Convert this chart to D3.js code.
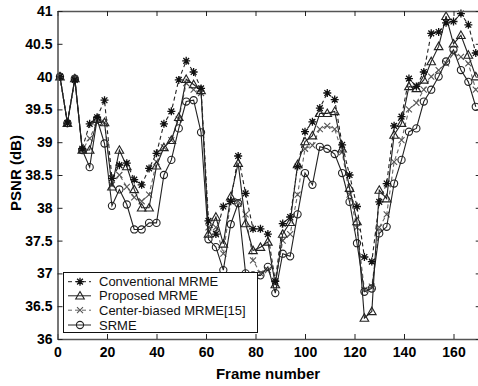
<!DOCTYPE html>
<html><head><meta charset="utf-8">
<script src="https://cdn.jsdelivr.net/npm/d3@7"></script>
<style>
body{margin:0;background:#fff;}
svg{display:block;font-family:"Liberation Sans",Arial,sans-serif;}
</style></head>
<body><svg id="c" width="478" height="386"></svg>
<script>
const frames = [1,4,7,10,13,16,19,22,25,28,31,34,37,40,43,46,49,52,55,58,61,64,67,70,73,76,79,82,85,88,91,94,97,100,103,106,109,112,115,118,121,124,127,130,133,136,139,142,145,148,151,154,157,160,163,166,169];
const conventional = [40.0,39.29,39.95,38.9,39.28,39.38,39.64,38.45,38.65,38.68,38.43,38.35,38.6,38.83,39.28,39.47,39.95,40.24,40.07,39.82,37.8,37.6,38.02,38.1,38.79,38.22,37.68,37.68,37.6,36.88,37.76,37.86,38.63,39.16,39.31,39.52,39.75,39.65,38.96,38.5,38.02,37.25,37.18,38.09,38.37,39.25,39.39,39.97,39.85,40.07,40.66,40.68,40.82,40.84,40.96,40.79,40.36];
const proposed = [40.0,39.29,39.97,38.88,38.88,39.35,39.3,38.32,38.88,38.63,38.28,38.0,38.0,38.64,38.92,39.03,39.38,39.96,39.88,39.79,37.6,37.86,37.45,38.17,38.68,37.76,37.35,37.4,37.48,36.83,37.6,37.78,38.66,39.01,39.1,39.44,39.44,39.47,38.9,38.3,37.79,36.32,36.42,38.27,38.14,39.11,39.29,39.85,39.82,39.95,40.23,40.46,40.92,40.5,40.63,40.33,40.0];
const centerBiased = [40.0,39.29,39.97,38.88,39.06,39.3,39.3,38.35,38.5,38.32,38.16,38.1,38.2,38.7,38.92,39.03,39.35,39.9,39.8,39.75,37.7,37.7,37.3,38.1,38.1,37.9,37.2,37.0,37.05,36.85,37.5,37.6,38.2,38.9,38.95,39.2,39.25,39.2,38.85,38.2,37.7,36.75,36.8,37.7,37.9,38.7,39.03,39.5,39.6,39.8,40.0,40.1,40.2,40.35,40.3,40.2,39.8];
const srme = [40.0,39.29,39.97,38.88,38.62,39.35,38.98,38.03,38.28,38.05,37.67,37.67,37.77,37.77,38.5,38.73,39.21,39.62,39.64,39.15,37.52,37.4,37.05,37.75,38.07,37.0,36.97,36.97,37.1,36.7,37.3,37.26,37.9,38.53,38.35,38.93,38.9,38.82,38.53,38.09,37.46,36.72,36.77,37.61,37.71,38.37,38.73,39.16,39.21,39.62,39.8,40.0,40.23,40.41,40.1,39.92,39.54];
const xTicks = [0,20,40,60,80,100,120,140,160];
const yTicks = [36,36.5,37,37.5,38,38.5,39,39.5,40,40.5,41];
const seriesNames = ["Conventional MRME","Proposed MRME","Center-biased MRME[15]","SRME"];

const svg = d3.select("#c");
const x = d3.scaleLinear().domain([0,171]).range([57.5, 57.5+171*2.475]);
const y = d3.scaleLinear().domain([36,41]).range([339,11]);

const styles = [
  {data:conventional, stroke:"#222", dash:"4,3", marker:"star", mcol:"#111"},
  {data:proposed, stroke:"#222", dash:null, marker:"tri", mcol:"#222"},
  {data:centerBiased, stroke:"#666", dash:"4,3", marker:"x", mcol:"#555"},
  {data:srme, stroke:"#222", dash:null, marker:"circ", mcol:"#222"}
];

function drawMarker(g, type, cx, cy, col){
  if(type==="star"){
    const r=4;
    g.append("path").attr("d",`M${cx-r},${cy}L${cx+r},${cy}M${cx},${cy-r}L${cx},${cy+r}M${cx-r*0.72},${cy-r*0.72}L${cx+r*0.72},${cy+r*0.72}M${cx-r*0.72},${cy+r*0.72}L${cx+r*0.72},${cy-r*0.72}`)
      .attr("stroke",col).attr("stroke-width",1.3).attr("fill","none");
  } else if(type==="tri"){
    const r=4.3;
    g.append("path").attr("d",`M${cx},${cy-r}L${cx+r},${cy+r*0.75}L${cx-r},${cy+r*0.75}Z`)
      .attr("stroke",col).attr("stroke-width",1.1).attr("fill","none");
  } else if(type==="x"){
    const r=3;
    g.append("path").attr("d",`M${cx-r},${cy-r}L${cx+r},${cy+r}M${cx-r},${cy+r}L${cx+r},${cy-r}`)
      .attr("stroke",col).attr("stroke-width",1.1).attr("fill","none");
  } else {
    g.append("circle").attr("cx",cx).attr("cy",cy).attr("r",3.6)
      .attr("stroke",col).attr("stroke-width",1.1).attr("fill","none");
  }
}

const line = d3.line().x((d,i)=>x(frames[i])).y(d=>y(d));
const plot = svg.append("g");
[2,3,1,0].forEach(k=>{
  const s = styles[k];
  plot.append("path").datum(s.data).attr("d",line)
    .attr("fill","none").attr("stroke",s.stroke).attr("stroke-width",1.1)
    .attr("stroke-dasharray",s.dash);
  const mg = plot.append("g");
  s.data.forEach((v,i)=>drawMarker(mg,s.marker,x(frames[i]),y(v),s.mcol));
});

const axCol="#555";
const x0=x(0), x1=x(171), yb=y(36), yt=y(41);
const fmt = d => (d%1 ? d.toFixed(1) : String(d));
const bAxis = svg.append("g").attr("transform",`translate(0,${yb})`)
  .call(d3.axisBottom(x).tickValues(xTicks).tickSize(-5).tickSizeOuter(0).tickPadding(8).tickFormat(fmt));
const tAxis = svg.append("g").attr("transform",`translate(0,${yt})`)
  .call(d3.axisTop(x).tickValues(xTicks).tickSize(-5).tickSizeOuter(0).tickFormat(""));
const lAxis = svg.append("g").attr("transform",`translate(${x0},0)`)
  .call(d3.axisLeft(y).tickValues(yTicks).tickSize(-5).tickSizeOuter(0).tickPadding(5).tickFormat(fmt));
const rAxis = svg.append("g").attr("transform",`translate(${x1},0)`)
  .call(d3.axisRight(y).tickValues(yTicks).tickSize(-5).tickSizeOuter(0).tickFormat(""));
[bAxis,tAxis,lAxis,rAxis].forEach(a=>{
  a.select(".domain").attr("stroke",axCol).attr("stroke-width",1.6);
  a.selectAll(".tick line").attr("stroke","#222").attr("stroke-width",1);
  a.selectAll("text").attr("font-size",14).attr("font-weight","bold").attr("fill","#000")
    .attr("font-family","'Liberation Sans',Arial,sans-serif");
});

svg.append("text").attr("x",268).attr("y",379).attr("text-anchor","middle")
  .attr("font-size",15).attr("font-weight","bold").text("Frame number");
svg.append("text").attr("transform","translate(21,173) rotate(-90)").attr("text-anchor","middle")
  .attr("font-size",15).attr("font-weight","bold").text("PSNR (dB)");

const lg = svg.append("g");
lg.append("rect").attr("x",63.5).attr("y",272.5).attr("width",194).attr("height",60)
  .attr("fill","#fff").attr("stroke","#111").attr("stroke-width",1);
const rowY = [281.7,295.8,310.2,325];
styles.forEach((s,i)=>{
  const yy = rowY[i];
  lg.append("line").attr("x1",68).attr("x2",91).attr("y1",yy).attr("y2",yy)
    .attr("stroke",s.stroke).attr("stroke-width",1).attr("stroke-dasharray",s.dash);
  drawMarker(lg,s.marker,80,yy,s.mcol);
  lg.append("text").attr("x",99).attr("y",yy+4.6).attr("font-size",13)
    .attr("fill","#111").text(seriesNames[i]);
});
</script></body></html>
